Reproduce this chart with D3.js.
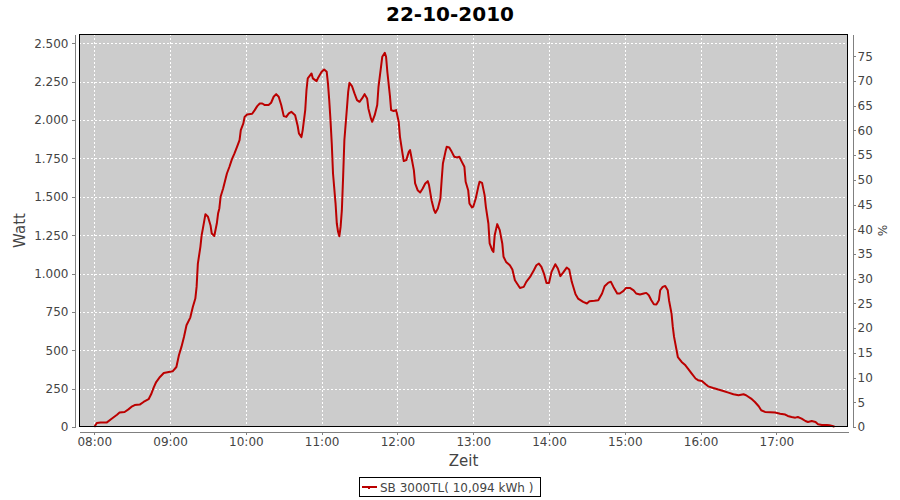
<!DOCTYPE html>
<html>
<head>
<meta charset="utf-8">
<script src="https://cdn.jsdelivr.net/npm/d3@7"></script>
<style>
  body { margin: 0; background: #ffffff; }
  svg { display: block; font-family: "DejaVu Sans", sans-serif; }
</style>
</head>
<body>
<svg id="chart" width="900" height="500"></svg>
<script>
// ---------- data ----------
const chartTitle = "22-10-2010";
const seriesName = "SB 3000TL( 10,094 kWh )";
const times = [
  "08:00","08:02","08:05","08:10","08:14","08:18","08:20","08:24","08:27","08:30",
  "08:32","08:36","08:39","08:43","08:45","08:47","08:49","08:52","08:55","08:59",
  "09:02","09:05","09:07","09:09","09:11","09:13","09:16","09:18","09:20","09:21",
  "09:22","09:24","09:25","09:26","09:28","09:30","09:32","09:33","09:35","09:37",
  "09:38","09:39","09:40","09:42","09:44","09:45","09:47","09:49","09:51","09:53",
  "09:55","09:56","09:58","09:59","10:01","10:05","10:07","10:09","10:11","10:13",
  "10:15","10:18","10:20","10:22","10:24","10:26","10:28","10:30","10:32","10:34",
  "10:36","10:39","10:41","10:42","10:44","10:45","10:47","10:48","10:49","10:52",
  "10:53","10:56","10:57","11:00","11:02","11:04","11:05","11:06","11:07","11:08",
  "11:09","11:11","11:12","11:13","11:14","11:15","11:16","11:17","11:18","11:20",
  "11:21","11:22","11:24","11:26","11:28","11:30","11:32","11:34","11:36","11:37",
  "11:39","11:40","11:42","11:44","11:45","11:47","11:48","11:50","11:51","11:52",
  "11:54","11:55","11:57","11:59","12:01","12:02","12:04","12:05","12:07","12:09",
  "12:10","12:11","12:13","12:14","12:16","12:18","12:20","12:22","12:24","12:25",
  "12:27","12:29","12:30","12:32","12:34","12:35","12:36","12:38","12:39","12:41",
  "12:43","12:45","12:47","12:49","12:51","12:53","12:54","12:56","12:57","12:59",
  "13:00","13:02","13:04","13:05","13:07","13:09","13:10","13:12","13:13","13:15",
  "13:16","13:17","13:19","13:21","13:23","13:24","13:26","13:29","13:31","13:33",
  "13:37","13:40","13:42","13:45","13:48","13:50","13:52","13:54","13:56","13:58",
  "14:00","14:02","14:05","14:07","14:09","14:11","14:14","14:16","14:18","14:21",
  "14:23","14:27","14:30","14:32","14:36","14:39","14:42","14:44","14:47","14:49",
  "14:51","14:54","14:56","14:59","15:01","15:04","15:07","15:09","15:12","15:15",
  "15:17","15:19","15:21","15:23","15:25","15:27","15:28","15:30","15:32","15:34",
  "15:35","15:37","15:38","15:39","15:41","15:42","15:45","15:48","15:50","15:53",
  "15:56","15:58","16:01","16:04","16:06","16:10","16:14","16:18","16:22","16:26",
  "16:30","16:34","16:36","16:40","16:43","16:46","16:48","16:51","16:55","16:59",
  "17:03","17:07","17:09","17:12","17:15","17:17","17:20","17:23","17:25","17:28",
  "17:31","17:33","17:36","17:40","17:42","17:45","17:46"
];
const watts = [
  0,26,30,30,55,80,94,98,115,135,
  143,146,163,181,213,257,293,326,352,359,
  363,391,467,522,587,663,713,782,837,913,
  1065,1174,1250,1294,1387,1370,1315,1261,1245,1326,
  1391,1424,1500,1554,1620,1652,1696,1746,1783,1826,
  1870,1935,1978,2021,2037,2041,2065,2091,2108,2108,
  2098,2098,2113,2152,2169,2152,2098,2026,2021,2044,
  2054,2032,1963,1913,1889,1935,2065,2196,2272,2304,
  2272,2254,2272,2315,2330,2315,2239,2130,2000,1848,
  1652,1457,1326,1272,1243,1304,1413,1630,1870,2076,
  2184,2243,2222,2174,2130,2119,2141,2169,2141,2076,
  2011,1989,2032,2098,2217,2347,2413,2439,2413,2315,
  2163,2065,2059,2065,1989,1891,1783,1733,1739,1793,
  1804,1761,1674,1587,1543,1528,1554,1587,1602,1576,
  1478,1413,1395,1424,1489,1609,1717,1793,1826,1822,
  1793,1761,1756,1761,1728,1696,1598,1543,1457,1431,
  1435,1489,1565,1598,1591,1511,1435,1326,1196,1152,
  1141,1250,1322,1283,1196,1109,1076,1054,1026,956,
  906,913,946,978,1022,1054,1065,1043,1000,939,
  939,1011,1061,1033,983,1004,1039,1026,946,865,
  837,815,805,820,822,826,870,917,941,946,
  913,870,870,887,906,906,891,870,863,870,
  874,859,826,800,798,826,891,913,919,891,
  826,739,652,587,500,456,424,402,381,348,
  316,305,300,278,265,254,244,235,224,213,
  207,213,207,185,163,135,109,98,96,94,
  87,81,72,65,61,65,55,39,33,39,
  33,18,13,13,11,5,2
];
const leftTicks = [0,250,500,750,1000,1250,1500,1750,2000,2250,2500];
const rightTicks = [0,5,10,15,20,25,30,35,40,45,50,55,60,65,70,75];
const hourTicks = ["08:00","09:00","10:00","11:00","12:00","13:00","14:00","15:00","16:00","17:00"];

// ---------- layout ----------
const svg = d3.select("#chart");
const P = { left: 79, right: 848, top: 34, bottom: 427 };
const day = "2010-10-22 ";
const parse = d3.timeParse("%Y-%m-%d %H:%M:%S");
const pt = s => parse(day + (s.length === 5 ? s + ":00" : s));

const data = times.map((t, i) => ({ t: pt(t), v: watts[i] }));

const x = d3.scaleTime()
  .domain([pt("07:47:54"), pt("17:56:42")])
  .range([P.left, P.right]);
const y = d3.scaleLinear().domain([0, 2561]).range([P.bottom, P.top]);
const y2 = d3.scaleLinear().domain([0, 79.5]).range([P.bottom, P.top]);

const locale = d3.formatLocale({ decimal: ",", thousands: ".", grouping: [3], currency: ["", "€"] });
const fmtW = locale.format(",d");

// plot background
svg.append("rect")
  .attr("x", P.left).attr("y", P.top)
  .attr("width", P.right - P.left).attr("height", P.bottom - P.top)
  .attr("fill", "#cccccc");

// grid
const grid = svg.append("g").attr("stroke", "#ffffff").attr("stroke-width", 1)
  .attr("stroke-dasharray", "2,2").attr("shape-rendering", "crispEdges");
grid.selectAll("line.h").data(leftTicks.filter(d => d > 0)).join("line")
  .attr("x1", P.left).attr("x2", P.right)
  .attr("y1", d => Math.round(y(d)) + 0.5).attr("y2", d => Math.round(y(d)) + 0.5);
grid.selectAll("line.v").data(hourTicks).join("line")
  .attr("y1", P.top).attr("y2", P.bottom)
  .attr("x1", d => Math.round(x(pt(d))) + 0.5).attr("x2", d => Math.round(x(pt(d))) + 0.5);

// line
const line = d3.line().x(d => x(d.t)).y(d => y(d.v));
svg.append("path").datum(data)
  .attr("d", line)
  .attr("fill", "none")
  .attr("stroke", "#bb0000")
  .attr("stroke-width", 2)
  .attr("stroke-linejoin", "round");

// plot outline
svg.append("rect")
  .attr("x", P.left + 0.5).attr("y", P.top + 0.5)
  .attr("width", P.right - P.left - 1).attr("height", P.bottom - P.top - 1)
  .attr("fill", "none").attr("stroke", "#000000").attr("stroke-width", 1)
  .attr("shape-rendering", "crispEdges");

// axes
function styleAxis(g) {
  g.selectAll(".domain").attr("stroke", "#808080");
  g.selectAll(".tick line").attr("stroke", "#808080");
  g.selectAll(".tick text").attr("fill", "#444444").style("font-size", "12px")
    .style("font-family", "'DejaVu Sans', sans-serif");
  g.attr("shape-rendering", "crispEdges");
}

const yAxis = d3.axisLeft(y).tickValues(leftTicks).tickFormat(fmtW)
  .tickSizeInner(3).tickSizeOuter(0).tickPadding(3);
svg.append("g").attr("transform", `translate(${P.left - 4.5},0)`).call(yAxis).call(styleAxis);

const y2Axis = d3.axisRight(y2).tickValues(rightTicks).tickFormat(d3.format("d"))
  .tickSizeInner(3).tickSizeOuter(0).tickPadding(2);
svg.append("g").attr("transform", `translate(${P.right + 4.5},0)`).call(y2Axis).call(styleAxis);

const xAxis = d3.axisBottom(x).tickValues(hourTicks.map(pt)).tickFormat(d3.timeFormat("%H:%M"))
  .tickSizeInner(3).tickSizeOuter(0).tickPadding(3);
svg.append("g").attr("transform", `translate(0,${P.bottom + 4.5})`).call(xAxis).call(styleAxis);

// titles
svg.append("text").attr("x", 450).attr("y", 21).attr("text-anchor", "middle")
  .style("font-size", "20px").style("font-weight", "bold").attr("fill", "#000")
  .text(chartTitle);

svg.append("text").attr("transform", `translate(25,${(P.top + P.bottom) / 2}) rotate(-90)`)
  .attr("text-anchor", "middle").style("font-size", "15px").attr("fill", "#444444")
  .text("Watt");

svg.append("text").attr("transform", `translate(878,${(P.top + P.bottom) / 2}) rotate(90)`)
  .attr("text-anchor", "middle").style("font-size", "12px").attr("fill", "#444444")
  .text("%");

svg.append("text").attr("x", (P.left + P.right) / 2).attr("y", 466).attr("text-anchor", "middle")
  .style("font-size", "15px").attr("fill", "#444444").text("Zeit");

// legend
const lg = svg.append("g");
lg.append("rect").attr("x", 359.5).attr("y", 477.5).attr("width", 181).attr("height", 19)
  .attr("fill", "#ffffff").attr("stroke", "#000000").attr("stroke-width", 1);
lg.append("line").attr("x1", 362).attr("x2", 377).attr("y1", 487).attr("y2", 487)
  .attr("stroke", "#bb0000").attr("stroke-width", 2);
lg.append("rect").attr("x", 368).attr("y", 487).attr("width", 2).attr("height", 2).attr("fill", "#bb0000");
lg.append("text").attr("x", 380).attr("y", 492).style("font-size", "12px").attr("fill", "#444444")
  .text(seriesName);
</script>
</body>
</html>
